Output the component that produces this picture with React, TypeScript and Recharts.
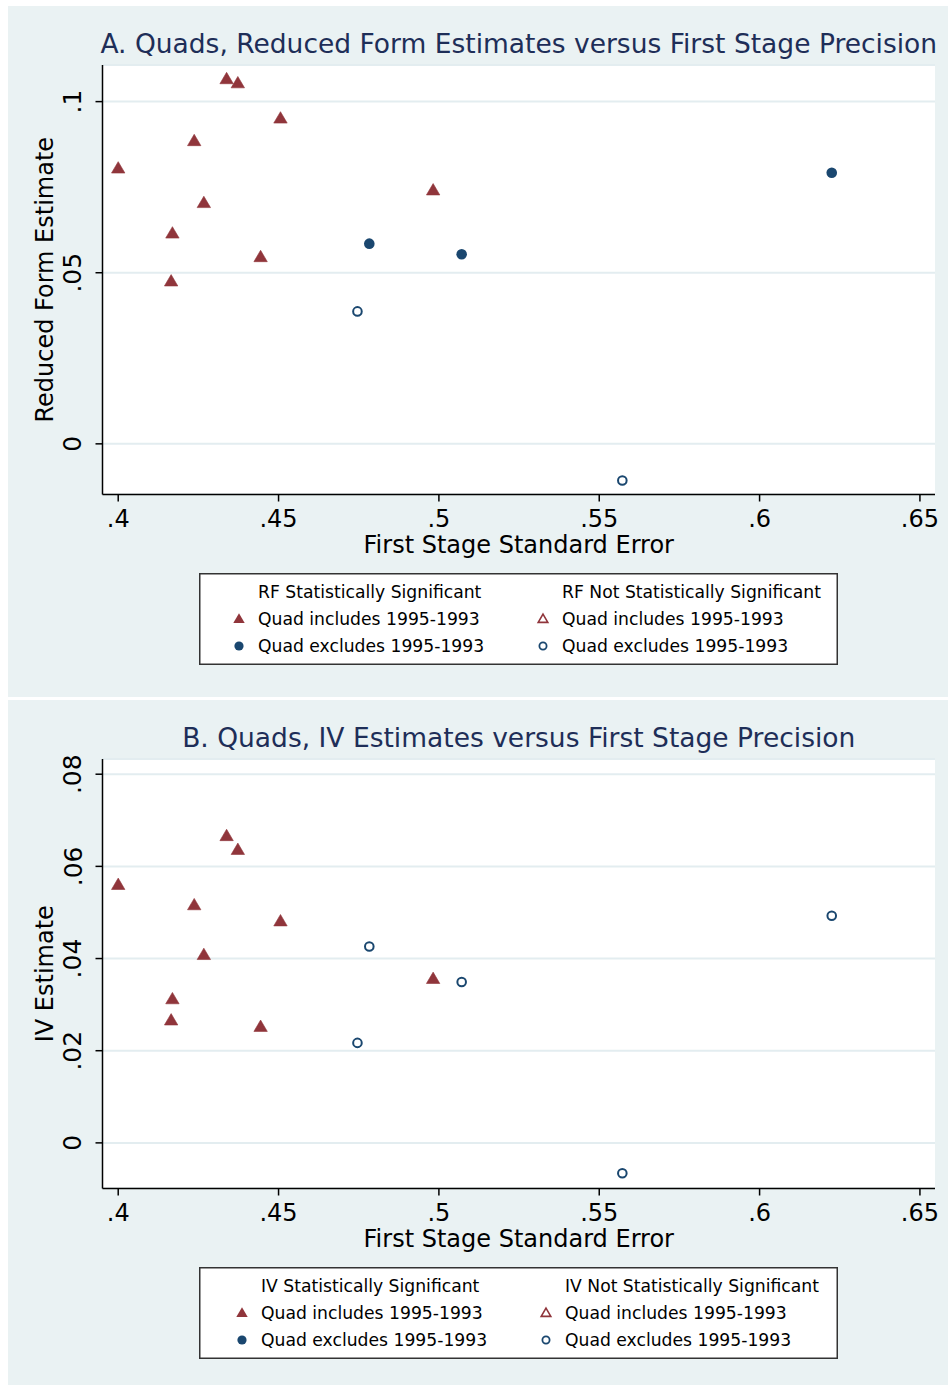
import React from 'react';
import { ScatterChart, Scatter, XAxis, YAxis, CartesianGrid, Legend } from 'recharts';

const MAROON = '#90353b';
const NAVY = '#1a476f';
const PANEL_BG = '#eaf2f3';
const GRID = '#e3edf0';
const TITLE_COLOR = '#1e2e58';

// quads whose window includes 1995-1993
const seIncludes = [0.4, 0.4165, 0.4169, 0.4237, 0.4267, 0.4338, 0.4373, 0.4444, 0.4506, 0.4982];
const rfIncludes = [0.0805, 0.0475, 0.0615, 0.0885, 0.0704, 0.1066, 0.1054, 0.0546, 0.0951, 0.0741];
const ivIncludes = [0.056, 0.0266, 0.0312, 0.0516, 0.0408, 0.0666, 0.0636, 0.0252, 0.0481, 0.0356];

// quads that exclude 1995-1993
const seExcludes = [0.4783, 0.5071, 0.6225, 0.4746, 0.5572];
const rfExcludes = [0.0585, 0.0554, 0.0792, 0.0387, -0.0107];
const ivExcludes = [0.0426, 0.0349, 0.0493, 0.0217, -0.0066];

// significance flags
const rfSigIncludes = [true, true, true, true, true, true, true, true, true, true];
const rfSigExcludes = [true, true, true, false, false];
const ivSigIncludes = [true, true, true, true, true, true, true, true, true, true];
const ivSigExcludes = [false, false, false, false, false];

const xTicks = [0.4, 0.45, 0.5, 0.55, 0.6, 0.65];
const rfTicks = [0, 0.05, 0.1];
const ivTicks = [0, 0.02, 0.04, 0.06, 0.08];

const X_DOMAIN: [number, number] = [0.3951, 0.6547];
const RF_DOMAIN: [number, number] = [-0.0148, 0.1107];
const IV_DOMAIN: [number, number] = [-0.0099, 0.0833];

type Pt = { x: number; y: number; s: boolean };

const split = (se: number[], est: number[], sig: boolean[]) => {
  const pts: Pt[] = se.map((x, i) => ({ x, y: est[i], s: sig[i] }));
  return { sig: pts.filter((p) => p.s), not: pts.filter((p) => !p.s) };
};

const fmt = (v: number) => {
  if (v === 0) return '0';
  return String(Number(v.toFixed(3))).replace(/^(-?)0\./, '$1.');
};

const triPath = (cx: number, cy: number, r: number) =>
  `M${cx},${cy - r} L${cx + r},${cy + r * 0.7} L${cx - r},${cy + r * 0.7} Z`;

const filledTriangle = (p: any) => (
  <path d={triPath(p.cx, p.cy, 6.7)} fill={MAROON} stroke={MAROON} strokeWidth={0.6} />
);
const hollowTriangle = (p: any) => (
  <path d={triPath(p.cx, p.cy, 5.8)} fill="none" stroke={MAROON} strokeWidth={1.8} />
);
const filledCircle = (p: any) => <circle cx={p.cx} cy={p.cy} r={5.3} fill={NAVY} />;
const hollowCircle = (p: any) => (
  <circle cx={p.cx} cy={p.cy} r={4.3} fill="none" stroke={NAVY} strokeWidth={2} />
);

const XTick = ({ x, y, payload }: any) => (
  <text x={x} y={y + 25} textAnchor="middle" fontSize={24} fill="#000">
    {fmt(payload.value)}
  </text>
);

const YTick = ({ x, y, payload }: any) => (
  <text
    x={x - 14}
    y={y}
    transform={`rotate(-90 ${x - 14} ${y})`}
    textAnchor="middle"
    fontSize={25}
    fill="#000"
  >
    {fmt(payload.value)}
  </text>
);

const LegendBox = ({ prefix, inset }: { prefix: string; inset: number }) => {
  const lx = 40 + inset;
  const rx = 344 + inset;
  const t = 19;
  return (
    <svg width={639} height={92} style={{ display: 'block' }}>
      <rect x={0.75} y={0.75} width={637.5} height={90.5} fill="#fff" stroke="#333" strokeWidth={1.5} />
      <g fontSize={17.2} fill="#000">
        <text x={lx + t} y={25}>{prefix} Statistically Significant</text>
        <text x={rx + t} y={25}>{prefix} Not Statistically Significant</text>
        <text x={lx + t} y={52}>Quad includes 1995-1993</text>
        <text x={lx + t} y={79}>Quad excludes 1995-1993</text>
        <text x={rx + t} y={52}>Quad includes 1995-1993</text>
        <text x={rx + t} y={79}>Quad excludes 1995-1993</text>
      </g>
      <path d={triPath(lx, 46, 5.7)} fill={MAROON} />
      <circle cx={lx} cy={73} r={4.6} fill={NAVY} />
      <path d={triPath(rx, 46, 4.8)} fill="none" stroke={MAROON} strokeWidth={1.6} />
      <circle cx={rx} cy={73} r={3.6} fill="none" stroke={NAVY} strokeWidth={1.8} />
    </svg>
  );
};

interface PanelProps {
  top: number;
  height: number;
  title: string;
  yLabel: string;
  prefix: string;
  inset: number;
  yDomain: [number, number];
  yTicks: number[];
  incl: { sig: Pt[]; not: Pt[] };
  excl: { sig: Pt[]; not: Pt[] };
}

const PLOT_TOP = 59;
const PLOT_LEFT = 94.5;
const PLOT_RIGHT = 927;
const PANEL_W = 940;

const Panel = ({ top, height, title, yLabel, prefix, inset, yDomain, yTicks, incl, excl }: PanelProps) => {
  const plotBottom = PLOT_TOP + 429.5;
  const xMid = (PLOT_LEFT + PLOT_RIGHT) / 2;
  const yMid = (PLOT_TOP + plotBottom) / 2;
  return (
    <div
      style={{
        position: 'absolute',
        left: 8,
        top,
        width: PANEL_W,
        height,
        background: PANEL_BG,
        overflow: 'hidden',
      }}
    >
      <ScatterChart
        width={PANEL_W}
        height={height}
        margin={{ top: PLOT_TOP, right: PANEL_W - PLOT_RIGHT, bottom: height - plotBottom - 40, left: PLOT_LEFT - 60 }}
      >
        <CartesianGrid vertical={false} stroke={GRID} strokeWidth={2} fill="#fff" />
        <XAxis
          type="number"
          dataKey="x"
          domain={X_DOMAIN}
          ticks={xTicks}
          allowDataOverflow
          interval={0}
          height={40}
          tickSize={7}
          tickMargin={0}
          axisLine={{ stroke: '#000', strokeWidth: 1.5 }}
          tickLine={{ stroke: '#000', strokeWidth: 1.5 }}
          tick={<XTick />}
          label={() => (
            <text x={xMid} y={547} textAnchor="middle" fontSize={24} fill="#000">
              First Stage Standard Error
            </text>
          )}
        />
        <YAxis
          type="number"
          dataKey="y"
          domain={yDomain}
          ticks={yTicks}
          allowDataOverflow
          interval={0}
          width={60}
          tickSize={7}
          tickMargin={0}
          axisLine={{ stroke: '#000', strokeWidth: 1.5 }}
          tickLine={{ stroke: '#000', strokeWidth: 1.5 }}
          tick={<YTick />}
          label={() => (
            <text
              x={45}
              y={yMid}
              transform={`rotate(-90 45 ${yMid})`}
              textAnchor="middle"
              fontSize={24}
              fill="#000"
            >
              {yLabel}
            </text>
          )}
        />
        <Legend
          layout="horizontal"
          verticalAlign="middle"
          align="center"
          wrapperStyle={{ left: 191, top: 567, width: 639, height: 92 }}
          content={() => <LegendBox prefix={prefix} inset={inset} />}
        />
        <Scatter name="sig-incl" data={incl.sig} shape={filledTriangle} isAnimationActive={false} />
        <Scatter name="sig-excl" data={excl.sig} shape={filledCircle} isAnimationActive={false} />
        <Scatter name="not-incl" data={incl.not} shape={hollowTriangle} isAnimationActive={false} />
        <Scatter name="not-excl" data={excl.not} shape={hollowCircle} isAnimationActive={false} />
      </ScatterChart>
      <div
        style={{
          position: 'absolute',
          left: 0,
          top: 21,
          width: xMid * 2,
          textAlign: 'center',
          fontSize: 26.5,
          lineHeight: '34px',
          color: TITLE_COLOR,
          whiteSpace: 'nowrap',
        }}
      >
        {title}
      </div>
    </div>
  );
};

const App = () => {
  const rfIncl = split(seIncludes, rfIncludes, rfSigIncludes);
  const rfExcl = split(seExcludes, rfExcludes, rfSigExcludes);
  const ivIncl = split(seIncludes, ivIncludes, ivSigIncludes);
  const ivExcl = split(seExcludes, ivExcludes, ivSigExcludes);

  return (
    <div
      style={{
        position: 'absolute',
        left: 0,
        top: 0,
        width: 948,
        height: 1387,
        background: '#fff',
        fontFamily: '"DejaVu Sans", sans-serif',
      }}
    >
      <Panel
        top={6}
        height={691}
        title="A. Quads, Reduced Form Estimates versus First Stage Precision"
        yLabel="Reduced Form Estimate"
        prefix="RF"
        inset={0}
        yDomain={RF_DOMAIN}
        yTicks={rfTicks}
        incl={rfIncl}
        excl={rfExcl}
      />
      <Panel
        top={700}
        height={685}
        title="B. Quads, IV Estimates versus First Stage Precision"
        yLabel="IV Estimate"
        prefix="IV"
        inset={3}
        yDomain={IV_DOMAIN}
        yTicks={ivTicks}
        incl={ivIncl}
        excl={ivExcl}
      />
    </div>
  );
};

export default App;
